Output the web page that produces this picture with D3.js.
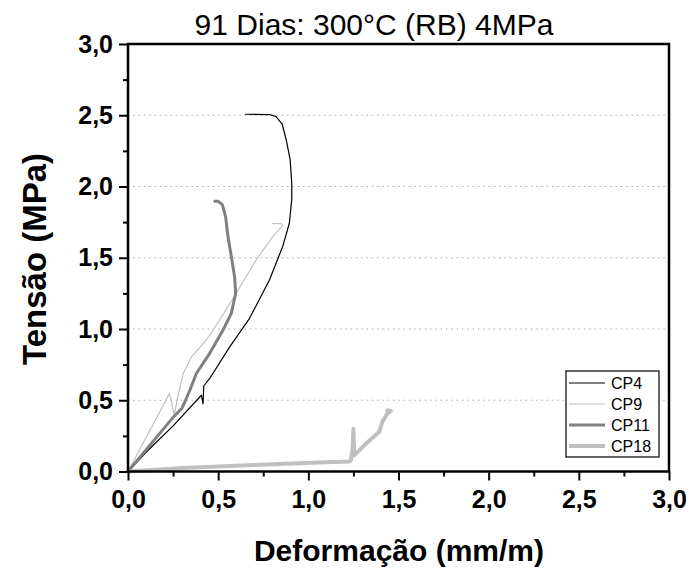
<!DOCTYPE html>
<html>
<head>
<meta charset="utf-8">
<title>91 Dias: 300°C (RB) 4MPa</title>
<script src="https://cdn.jsdelivr.net/npm/d3@7"></script>
<style>
  body { margin: 0; background: #fff; }
  svg { display: block; font-family: "Liberation Sans", Arial, sans-serif; }
  .grid line { stroke: #a8a8a8; stroke-width: 1.2; stroke-dasharray: 1.5,3.8; }
  .axis path { display: none; }
  .axis line { stroke: #000; stroke-width: 2; }
  .axis text { font-weight: bold; font-size: 25px; fill: #000; }
  .line { fill: none; stroke-linejoin: round; stroke-linecap: round; }
</style>
</head>
<body>
<svg id="chart" width="689" height="569"></svg>
<script>
// data: [deformacao, tensao]
const cp4 = [[0,0],[0.12,0.16],[0.25,0.32],[0.407,0.535],[0.416,0.475],[0.42,0.60],[0.453,0.653],
  [0.564,0.875],[0.674,1.075],[0.785,1.345],[0.858,1.58],[0.895,1.744],[0.908,1.908],[0.908,2.026],
  [0.899,2.19],[0.877,2.33],[0.855,2.437],[0.821,2.49],[0.785,2.505],[0.652,2.507]];
const cp9 = [[0,0],[0.23,0.548],[0.257,0.396],[0.272,0.5],[0.306,0.688],[0.352,0.805],[0.435,0.923],
  [0.508,1.063],[0.6,1.251],[0.711,1.486],[0.803,1.65],[0.858,1.725],[0.849,1.739],[0.803,1.739]];
const cp11 = [[0,0],[0.25,0.38],[0.297,0.44],[0.324,0.514],[0.343,0.57],[0.379,0.688],[0.453,0.829],
  [0.527,0.993],[0.573,1.11],[0.597,1.251],[0.591,1.368],[0.573,1.509],[0.554,1.65],[0.541,1.791],
  [0.523,1.873],[0.499,1.897],[0.481,1.897]];
const cp18 = [[0,0],[0.3,0.025],[0.7,0.045],[1.06,0.063],[1.23,0.07],[1.236,0.082],[1.245,0.15],
  [1.25,0.30],[1.254,0.113],[1.319,0.195],[1.392,0.277],[1.41,0.347],[1.438,0.406],[1.457,0.425],[1.438,0.43]];

const seriesNames = ["CP4", "CP9", "CP11", "CP18"];
const seriesData = [cp4, cp9, cp11, cp18];
const seriesColors = ["#000000", "#c0c0c0", "#808080", "#c0c0c0"];
const seriesWidths = [1.2, 1.2, 3, 4];

const xTicks = [0, 0.5, 1, 1.5, 2, 2.5, 3];
const yTicks = [0, 0.5, 1, 1.5, 2, 2.5, 3];
const minorTicks = [0.25, 0.75, 1.25, 1.75, 2.25, 2.75];
const gridValues = [0.5, 1, 1.5, 2, 2.5];

const title = "91 Dias: 300°C (RB) 4MPa";
const xTitle = "Deformação (mm/m)";
const yTitle = "Tensão (MPa)";

var plotL = 128, plotR = 669, plotT = 44, plotB = 471.5;
var svg = d3.select("#chart");

var x = d3.scaleLinear().domain([0, 3]).range([plotL, plotR]);
var y = d3.scaleLinear().domain([0, 3]).range([plotB, plotT]);
var fmt = d => d3.format(".1f")(d).replace(".", ",");

// dotted grid
svg.append("g").attr("class", "grid")
  .selectAll("line").data(gridValues).join("line")
  .attr("x1", plotL).attr("x2", plotR)
  .attr("y1", d => y(d)).attr("y2", d => y(d));

// curves
var line = d3.line().x(d => x(d[0])).y(d => y(d[1]));
seriesData.forEach(function(d, i) {
  svg.append("path")
    .attr("class", "line")
    .attr("d", line(d))
    .style("stroke", seriesColors[i])
    .style("stroke-width", seriesWidths[i]);
});

// axes
svg.append("g").attr("class", "axis")
  .attr("transform", "translate(0," + plotB + ")")
  .call(d3.axisBottom(x).tickValues(xTicks).tickFormat(fmt).tickSize(9).tickPadding(10));
svg.append("g").attr("class", "axis")
  .attr("transform", "translate(0," + plotB + ")")
  .call(d3.axisBottom(x).tickValues(minorTicks).tickFormat("").tickSize(5));
svg.append("g").attr("class", "axis")
  .attr("transform", "translate(" + plotL + ",0)")
  .call(d3.axisLeft(y).tickValues(yTicks).tickFormat(fmt).tickSize(9).tickPadding(6));
svg.append("g").attr("class", "axis")
  .attr("transform", "translate(" + plotL + ",0)")
  .call(d3.axisLeft(y).tickValues(minorTicks).tickFormat("").tickSize(5));

// frame
svg.append("rect")
  .attr("x", plotL).attr("y", plotT)
  .attr("width", plotR - plotL).attr("height", plotB - plotT)
  .attr("fill", "none").attr("stroke", "#000").attr("stroke-width", 2.5);

// titles
svg.append("text")
  .attr("x", 374).attr("y", 35)
  .attr("text-anchor", "middle")
  .style("font-size", "30px")
  .text(title);
svg.append("text")
  .attr("x", 399).attr("y", 561)
  .attr("text-anchor", "middle")
  .style("font-size", "30px").style("font-weight", "bold")
  .text(xTitle);
svg.append("text")
  .attr("transform", "translate(46,259) rotate(-90)")
  .attr("text-anchor", "middle")
  .style("font-size", "33px").style("font-weight", "bold")
  .text(yTitle);

// legend
var lg = svg.append("g").attr("transform", "translate(566,371)");
lg.append("rect").attr("width", 93).attr("height", 86)
  .attr("fill", "#fff").attr("stroke", "#000").attr("stroke-width", 1.2);
seriesNames.forEach(function(name, i) {
  var cy = 12 + i * 21;
  lg.append("line").attr("x1", 3).attr("x2", 39).attr("y1", cy).attr("y2", cy)
    .style("stroke", seriesColors[i]).style("stroke-width", seriesWidths[i]);
  lg.append("text").attr("x", 45).attr("y", cy + 6)
    .style("font-size", "16px").text(name);
});
</script>
</body>
</html>
